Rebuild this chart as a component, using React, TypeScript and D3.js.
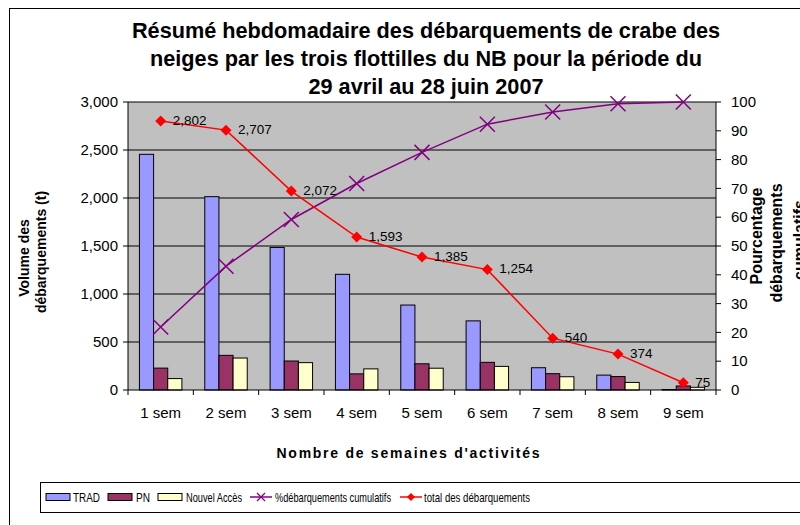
import React from "react";
import * as d3 from "d3";

const weeks = ["1 sem", "2 sem", "3 sem", "4 sem", "5 sem", "6 sem", "7 sem", "8 sem", "9 sem"];
const trad = [2455, 2014, 1485, 1205, 885, 720, 232, 155, 5];
const pn = [228, 361, 302, 168, 273, 288, 170, 140, 42];
const nouvelAcces = [119, 333, 285, 220, 227, 246, 138, 79, 28];
const totals = [2802, 2707, 2072, 1593, 1385, 1254, 540, 374, 75];
const cumulPct = [21.9, 43.0, 59.2, 71.7, 82.5, 92.3, 96.5, 99.4, 100];
const leftTicks = [0, 500, 1000, 1500, 2000, 2500, 3000];
const rightTicks = [0, 10, 20, 30, 40, 50, 60, 70, 80, 90, 100];

const series = [
  { name: "TRAD", values: trad, color: "#9999ff" },
  { name: "PN", values: pn, color: "#993366" },
  { name: "Nouvel Accès", values: nouvelAcces, color: "#ffffcc" },
];

const FONT = "'Liberation Sans', Arial, sans-serif";

export default function App() {
  const left = 128, right = 716, top = 102, bottom = 390;

  const x = d3.scaleBand<string>().domain(weeks).range([left, right]).paddingInner(0.35).paddingOuter(0.175);
  const xCat = d3.scaleBand<string>().domain(weeks).range([left, right]);
  const sub = d3.scaleBand<string>().domain(series.map((s) => s.name)).range([0, x.bandwidth()]);
  const y = d3.scaleLinear().domain([0, 3000]).range([bottom, top]);
  const y2 = d3.scaleLinear().domain([0, 100]).range([bottom, top]);
  const cx = (w: string) => (xCat(w) as number) + xCat.bandwidth() / 2;

  const totalLine = d3.line<number>().x((_, i) => cx(weeks[i])).y((d) => y(d));
  const pctLine = d3.line<number>().x((_, i) => cx(weeks[i])).y((d) => y2(d));
  const fmt = d3.format(",");

  const diamond = (px: number, py: number, r = 5) =>
    `M${px},${py - r}L${px + r},${py}L${px},${py + r}L${px - r},${py}Z`;
  const cross = (px: number, py: number, r = 6) =>
    `M${px - r},${py - r}L${px + r},${py + r}M${px - r},${py + r}L${px + r},${py - r}`;

  const legendItems = [
    { kind: "rect", color: "#9999ff", label: "TRAD", sx: 46, tx: 73, tw: 27 },
    { kind: "rect", color: "#993366", label: "PN", sx: 108, tx: 136, tw: 14 },
    { kind: "rect", color: "#ffffcc", label: "Nouvel Accès", sx: 158, tx: 186, tw: 56 },
    { kind: "cross", color: "#800080", label: "%débarquements cumulatifs", sx: 250, tx: 275, tw: 116 },
    { kind: "diamond", color: "#ff0000", label: "total des débarquements", sx: 400, tx: 424, tw: 106 },
  ];

  return (
    <div style={{ position: "absolute", left: 0, top: 0 }}>
      <svg width={800} height={525} style={{ display: "block", fontFamily: FONT }}>
        <rect x={0} y={0} width={800} height={525} fill="#fff" />
        <rect x={9.5} y={8.5} width={800} height={530} fill="none" stroke="#000" />

        {/* title */}
        <g fontWeight="bold" fontSize={21.7} textAnchor="middle" fill="#000">
          <text x={426} y={38}>Résumé hebdomadaire des débarquements de crabe des</text>
          <text x={426} y={66}>neiges par les trois flottilles du NB pour la période du</text>
          <text x={426} y={94}>29 avril au 28 juin 2007</text>
        </g>

        {/* plot area */}
        <rect x={left} y={top} width={right - left} height={bottom - top} fill="#c0c0c0" />
        {leftTicks.slice(1).map((t) => (
          <line key={t} x1={left} x2={right} y1={y(t)} y2={y(t)} stroke="#000" strokeWidth={1} />
        ))}

        {/* bars */}
        {series.map((s) => (
          <g key={s.name}>
            {s.values.map((v, i) => (
              <rect
                key={i}
                x={(x(weeks[i]) as number) + (sub(s.name) as number)}
                y={y(v)}
                width={sub.bandwidth()}
                height={bottom - y(v)}
                fill={s.color}
                stroke="#000"
                strokeWidth={1}
              />
            ))}
          </g>
        ))}

        {/* left axis */}
        <line x1={left} x2={left} y1={top} y2={bottom} stroke="#000" />
        {leftTicks.map((t) => (
          <g key={t}>
            <line x1={left - 5} x2={left} y1={y(t)} y2={y(t)} stroke="#000" />
            <text x={left - 10} y={y(t)} dy="0.35em" textAnchor="end" fontSize={15}>
              {fmt(t)}
            </text>
          </g>
        ))}

        {/* right axis */}
        <line x1={right} x2={right} y1={top} y2={bottom} stroke="#000" />
        {rightTicks.map((t) => (
          <g key={t}>
            <line x1={right} x2={right + 5} y1={y2(t)} y2={y2(t)} stroke="#000" />
            <text x={right + 15} y={y2(t)} dy="0.35em" textAnchor="start" fontSize={15}>
              {t}
            </text>
          </g>
        ))}

        {/* x axis */}
        <line x1={left} x2={right} y1={bottom} y2={bottom} stroke="#000" />
        {weeks.map((w) => (
          <g key={w}>
            <line x1={xCat(w)} x2={xCat(w)} y1={bottom} y2={bottom + 5} stroke="#000" />
            <text x={cx(w)} y={418} textAnchor="middle" fontSize={15}>
              {w}
            </text>
          </g>
        ))}
        <line x1={right} x2={right} y1={bottom} y2={bottom + 5} stroke="#000" />

        {/* cumulative % line */}
        <path d={pctLine(cumulPct) || ""} fill="none" stroke="#800080" strokeWidth={1.5} />
        {cumulPct.map((v, i) => (
          <path key={i} d={cross(cx(weeks[i]), y2(v), 7.5)} stroke="#800080" strokeWidth={1.5} fill="none" />
        ))}

        {/* totals line */}
        <path d={totalLine(totals) || ""} fill="none" stroke="#ff0000" strokeWidth={1.5} />
        {totals.map((v, i) => (
          <g key={i}>
            <path d={diamond(cx(weeks[i]), y(v), 5.5)} fill="#ff0000" />
            <text x={cx(weeks[i]) + 12} y={y(v) - 1} dy="0.35em" fontSize={13.5} fill="#000">
              {fmt(v)}
            </text>
          </g>
        ))}

        {/* axis titles */}
        <g fontWeight="bold" fontSize={14} textAnchor="middle">
          <text transform="translate(29,258) rotate(-90)">Volume des</text>
          <text transform="translate(46,252) rotate(-90)">débarquements (t)</text>
          <text x={408} y={458} fontSize={14} textLength={263} lengthAdjust="spacing">
            Nombre de semaines d'activités
          </text>
        </g>
        <g fontWeight="bold" fontSize={16} textAnchor="middle">
          <text transform="translate(762,236) rotate(-90)">Pourcentage</text>
          <text transform="translate(782,243) rotate(-90)">débarquements</text>
          <text transform="translate(805,240) rotate(-90)">cumulatifs</text>
        </g>

        {/* legend */}
        <rect x={40.5} y={482.5} width={800} height={30} fill="#fff" stroke="#000" />
        {legendItems.map((it) => (
          <g key={it.label}>
            {it.kind === "rect" && (
              <rect x={it.sx} y={493.5} width={24} height={7} fill={it.color} stroke="#000" />
            )}
            {it.kind !== "rect" && (
              <line x1={it.sx} x2={it.sx + 22} y1={497} y2={497} stroke={it.color} strokeWidth={1.5} />
            )}
            {it.kind === "cross" && (
              <path d={cross(it.sx + 11, 497, 4)} stroke={it.color} strokeWidth={1.2} fill="none" />
            )}
            {it.kind === "diamond" && <path d={diamond(it.sx + 11, 497, 4)} fill={it.color} />}
            <text
              x={it.tx}
              y={497}
              dy="0.37em"
              fontSize={13}
              textLength={it.tw}
              lengthAdjust="spacingAndGlyphs"
            >
              {it.label}
            </text>
          </g>
        ))}
      </svg>
    </div>
  );
}
